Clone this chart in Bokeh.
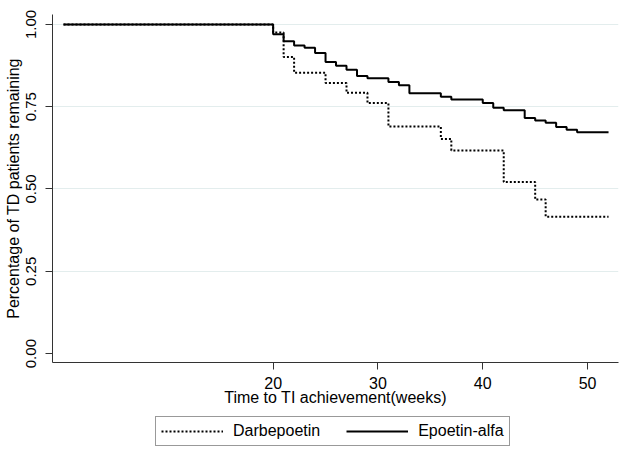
from bokeh.plotting import figure
from bokeh.layouts import column
from bokeh.models import FixedTicker, Legend, LegendItem, Range1d
from bokeh.embed import file_html
from bokeh.resources import INLINE

# Kaplan-Meier step data (time in weeks, proportion remaining)
epo_t = [0, 20, 21, 22, 23, 24, 25, 26, 27, 28, 29, 31, 32, 33, 36, 37, 40, 41, 42, 44, 45, 46, 47, 48, 49, 52]
epo_s = [1.0, 0.970, 0.949, 0.936, 0.929, 0.913, 0.886, 0.874, 0.862, 0.843, 0.836, 0.825, 0.815, 0.791,
         0.780, 0.772, 0.761, 0.747, 0.739, 0.716, 0.708, 0.701, 0.688, 0.680, 0.672, 0.672]

darb_t = [0, 20, 21, 22, 25, 27, 29, 31, 36, 37, 42, 45, 46, 52]
darb_s = [1.0, 0.975, 0.901, 0.853, 0.822, 0.792, 0.761, 0.690, 0.652, 0.617, 0.521, 0.468, 0.416, 0.416]

series_labels = ["Darbepoetin", "Epoetin-alfa"]
x_ticks = [20, 30, 40, 50]
y_ticks = [0.0, 0.25, 0.5, 0.75, 1.0]
y_tick_labels = ["0.00", "0.25", "0.50", "0.75", "1.00"]
grid_ticks = [0.25, 0.5, 0.75, 1.0]

FONT = "Liberation Sans"

p = figure(width=629, height=410, output_backend="svg", toolbar_location=None,
           x_range=Range1d(-1.05, 52.95), y_range=Range1d(-0.027, 1.030),
           min_border_left=52, min_border_right=11, min_border_top=14, min_border_bottom=48)
p.outline_line_color = None
p.background_fill_color = "white"
p.border_fill_color = "white"

p.step(darb_t, darb_s, mode="after", line_color="black", line_width=2, line_dash="2 2")
p.step(epo_t, epo_s, mode="after", line_color="black", line_width=2)

# x axis
xa = p.xaxis[0]
xa.ticker = FixedTicker(ticks=x_ticks)
xa.minor_tick_line_color = None
xa.major_tick_in = 0
xa.major_tick_out = 7
xa.axis_line_color = "#333333"
xa.major_tick_line_color = "#333333"
xa.major_label_text_font = FONT
xa.major_label_text_font_size = "16px"
xa.major_label_text_color = "black"
xa.major_label_standoff = 7
xa.axis_label = "Time to TI achievement(weeks)"
xa.axis_label_text_font = FONT
xa.axis_label_text_font_size = "16px"
xa.axis_label_text_font_style = "normal"
xa.axis_label_text_color = "black"
xa.axis_label_standoff = -3

# y axis
ya = p.yaxis[0]
ya.ticker = FixedTicker(ticks=y_ticks)
ya.major_label_overrides = {t: l for t, l in zip(y_ticks, y_tick_labels)}
ya.minor_tick_line_color = None
ya.major_tick_in = 0
ya.major_tick_out = 7
ya.axis_line_color = "#333333"
ya.major_tick_line_color = "#333333"
ya.major_label_orientation = "vertical"
ya.major_label_text_font = FONT
ya.major_label_text_font_size = "15px"
ya.major_label_text_color = "black"
ya.major_label_standoff = 9
ya.axis_label = "Percentage of TD patients remaining"
ya.axis_label_text_font = FONT
ya.axis_label_text_font_size = "16px"
ya.axis_label_text_font_style = "normal"
ya.axis_label_text_color = "black"
ya.axis_label_standoff = 2

p.xgrid.grid_line_color = None
p.ygrid.ticker = FixedTicker(ticks=grid_ticks)
p.ygrid.grid_line_color = "#e3eded"
p.ygrid.grid_line_width = 1

# legend strip below the plot (its key renderers sit outside the visible ranges)
lg = figure(width=629, height=46, output_backend="svg", toolbar_location=None,
            x_range=Range1d(1000, 1566), y_range=Range1d(1000, 1046),
            min_border_left=52, min_border_right=11, min_border_top=0, min_border_bottom=0)
lg.axis.visible = False
lg.grid.visible = False
lg.outline_line_color = None
lg.border_fill_color = "white"
lr_darb = lg.step(darb_t, darb_s, mode="after", line_color="black", line_width=2, line_dash="2 2")
lr_epo = lg.step(epo_t, epo_s, mode="after", line_color="black", line_width=2)

legend = Legend(items=[LegendItem(label=series_labels[0], renderers=[lr_darb]),
                       LegendItem(label=series_labels[1], renderers=[lr_epo])],
                orientation="horizontal", location=(103, 10))
legend.label_text_font = FONT
legend.label_text_font_size = "16px"
legend.label_text_color = "black"
legend.glyph_width = 62
legend.glyph_height = 18
legend.label_standoff = 10
legend.spacing = 26
legend.padding = 5
legend.margin = 0
legend.border_line_color = "#333333"
legend.border_line_width = 1
legend.background_fill_color = "white"
lg.add_layout(legend, "center")

layout = column(p, lg, spacing=0)
open("out.html", "w").write(file_html(layout, INLINE))
